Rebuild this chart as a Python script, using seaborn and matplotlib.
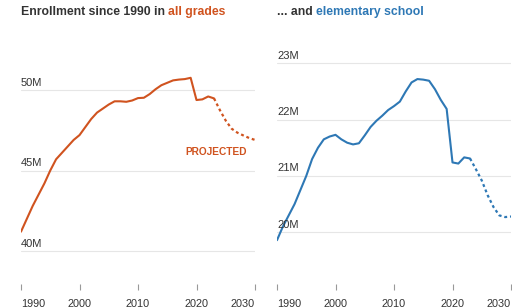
import matplotlib
matplotlib.use("Agg")
import matplotlib.pyplot as plt
import matplotlib.transforms as mtransforms
import pandas as pd
import seaborn as sns

# enrollment, millions
years = list(range(1990, 2024))
all_grades = [41.2, 42.0, 42.8, 43.5, 44.2, 45.0, 45.7, 46.1, 46.5, 46.9,
              47.2, 47.7, 48.2, 48.6, 48.85, 49.1, 49.3, 49.3, 49.27, 49.35,
              49.5, 49.52, 49.75, 50.05, 50.3, 50.45, 50.6, 50.65, 50.68, 50.76,
              49.38, 49.42, 49.6, 49.48]
elementary = [19.86, 20.1, 20.3, 20.5, 20.75, 21.0, 21.3, 21.5, 21.65, 21.7,
              21.73, 21.65, 21.59, 21.56, 21.58, 21.72, 21.87, 21.98, 22.07, 22.17,
              22.24, 22.32, 22.5, 22.66, 22.72, 22.71, 22.69, 22.54, 22.35, 22.19,
              21.24, 21.22, 21.33, 21.31]

proj_years = list(range(2023, 2031))
all_grades_proj = [49.48, 48.75, 48.1, 47.6, 47.35, 47.18, 47.02, 46.9]
elementary_proj = [21.31, 21.12, 20.92, 20.66, 20.45, 20.3, 20.27, 20.28]

x_ticks = [1990, 2000, 2010, 2020, 2030]
left_yticks = [40, 45, 50]
right_yticks = [20, 21, 22, 23]

ORANGE = "#d0531f"
BLUE = "#2e78b5"
DARK = "#333333"
GRID = "#e6e6e6"

sns.set_theme(style="white")
plt.rcParams["font.family"] = ["Liberation Sans", "DejaVu Sans"]

fig = plt.figure(figsize=(5.12, 3.08), dpi=100)
bottom = (308 - 284) / 308
height = (284 - 30) / 308
ax1 = fig.add_axes([21 / 512, bottom, 234 / 512, height])
ax2 = fig.add_axes([277 / 512, bottom, 234 / 512, height])

# small upward shift so y labels sit just above their grid lines
lift = mtransforms.ScaledTranslation(0, 4.5 / 100, fig.dpi_scale_trans)


def draw_panel(ax, hist, proj, color, yticks, ylim):
    df = pd.DataFrame({"year": years, "value": hist})
    dp = pd.DataFrame({"year": proj_years, "value": proj})
    sns.lineplot(data=df, x="year", y="value", ax=ax, color=color, lw=1.5)
    sns.lineplot(data=dp, x="year", y="value", ax=ax, color=color, lw=1.6,
                 linestyle=(0, (1.3, 1.3)))
    ax.set_xlim(1990, 2030)
    ax.set_ylim(*ylim)
    for v in yticks:
        ax.axhline(v, color=GRID, lw=0.8, zorder=0)
        ax.text(0, v, f"{v}M", transform=ax.get_yaxis_transform() + lift,
                ha="left", va="baseline", fontsize=8, color=DARK)
    ax.set_yticks([])
    ax.set_xticks(x_ticks)
    ax.tick_params(axis="x", length=4, width=0.8, color="#999999",
                   pad=6.5, direction="out", bottom=True)
    ax.set_xticklabels([str(t) for t in x_ticks], fontsize=7.8, color=DARK)
    ax.set_xlabel("")
    ax.set_ylabel("")
    for s in ax.spines.values():
        s.set_visible(False)
    ax.patch.set_alpha(0)


draw_panel(ax1, all_grades, all_grades_proj, ORANGE, left_yticks, (37.95, 53.73))
draw_panel(ax2, elementary, elementary_proj, BLUE, right_yticks, (19.082, 23.591))

ax1.text(2023.3, 46.17, "PROJECTED", ha="center", va="center",
         fontsize=7.3, fontweight="bold", color=ORANGE)

# titles
t1 = fig.text(21 / 512, 1 - 15 / 308, "Enrollment since 1990 in ", fontsize=8.8,
              fontweight="bold", color=DARK, ha="left", va="baseline")
ax1.annotate("all grades", xy=(1, 0), xycoords=t1, fontsize=8.8, fontweight="bold",
             color=ORANGE, ha="left", va="bottom", annotation_clip=False)
t2 = fig.text(277 / 512, 1 - 15 / 308, "... and ", fontsize=8.8,
              fontweight="bold", color=DARK, ha="left", va="baseline")
ax2.annotate("elementary school", xy=(1, 0), xycoords=t2, fontsize=8.8, fontweight="bold",
             color=BLUE, ha="left", va="bottom", annotation_clip=False)

# first year label flush left, last flush right
for ax in (ax1, ax2):
    labels = ax.get_xticklabels()
    labels[0].set_horizontalalignment("left")
    labels[-1].set_horizontalalignment("right")

fig.savefig("out.png", dpi=100)
